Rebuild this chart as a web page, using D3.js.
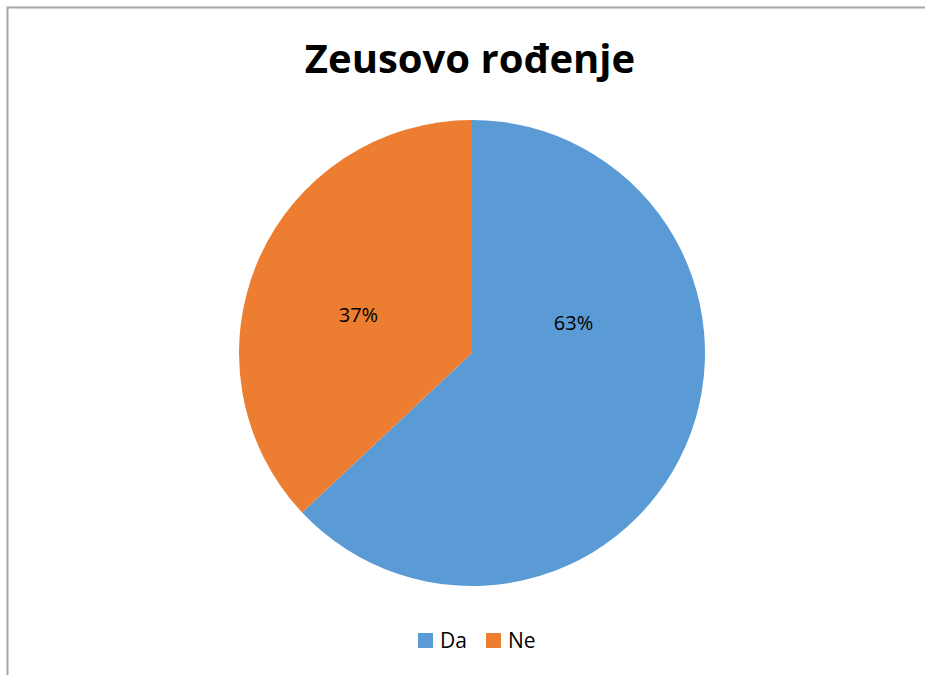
<!DOCTYPE html>
<html><head>
<meta charset="utf-8">
<script src="https://d3js.org/d3.v7.min.js"></script>
<style>
  body { margin: 0; background: #fff; }
  text { font-family: "Open Sans", "DejaVu Sans", sans-serif; }
</style>
</head>
<body>
<div id="container"></div>
<script>
// chart data
const categories = ["Da", "Ne"];
const values = [63, 37];
const colors = ["#5B9BD5", "#ED7D31"];
const title = "Zeusovo rođenje";

const width = 925, height = 675;
const svg = d3.select("#container").append("svg")
              .attr("width", width).attr("height", height);

// chart frame (only top and left edges are visible in the crop)
svg.append("path")
   .attr("d", "M7.5,675 L7.5,7.5 L925,7.5")
   .attr("fill", "none").attr("stroke", "#a6a6a6").attr("stroke-width", 2);

svg.append("text")
   .attr("x", 470).attr("y", 73)
   .attr("text-anchor", "middle")
   .attr("font-size", 40).attr("font-weight", 700)
   .attr("fill", "#000")
   .text(title);

const cx = 472, cy = 353, r = 233;
const data = categories.map((c, i) => ({ name: c, value: values[i], color: colors[i] }));
const pie = d3.pie().sort(null).value(d => d.value);
const arc = d3.arc().innerRadius(0).outerRadius(r);
const labelArc = d3.arc().innerRadius(0).outerRadius(r * 0.95);

const g = svg.append("g").attr("transform", "translate(" + cx + "," + cy + ")");
const slices = pie(data);
g.selectAll("path.slice").data(slices)
 .join("path").attr("class", "slice")
 .attr("d", arc)
 .attr("fill", d => d.data.color);

// Excel-ish label placement: the big slice label sits higher than its centroid
const nudge = { Da: [0, -74], Ne: [-12, 5] };
const total = d3.sum(values);
g.selectAll("text.lbl").data(slices)
 .join("text").attr("class", "lbl")
 .attr("x", d => labelArc.centroid(d)[0] + nudge[d.data.name][0])
 .attr("y", d => labelArc.centroid(d)[1] + nudge[d.data.name][1])
 .attr("text-anchor", "middle").attr("dominant-baseline", "central")
 .attr("font-size", 20).attr("fill", "#000")
 .text(d => Math.round(d.data.value / total * 100) + "%");

// legend
const legend = svg.append("g");
const lx = [418, 486];
legend.selectAll("rect").data(data).join("rect")
      .attr("x", (d, i) => lx[i]).attr("y", 633)
      .attr("width", 15).attr("height", 15)
      .attr("fill", d => d.color);
legend.selectAll("text").data(data).join("text")
      .attr("x", (d, i) => lx[i] + 22).attr("y", 648)
      .attr("font-size", 21).attr("fill", "#000")
      .text(d => d.name);
</script>
</body>
</html>
